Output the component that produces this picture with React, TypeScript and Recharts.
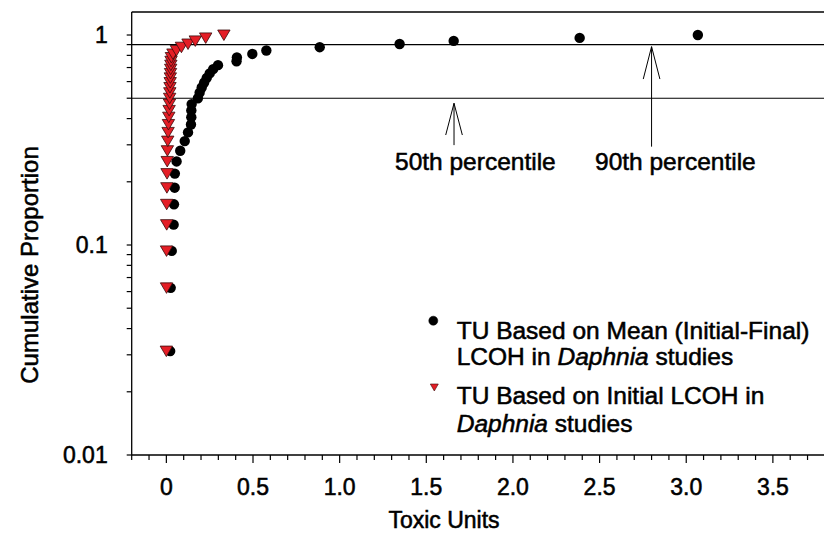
import {
  ScatterChart,
  Scatter,
  XAxis,
  YAxis,
  ReferenceLine,
  Legend,
} from "recharts";

// cumulative proportion (rank / 32)
const proportion = [
  0.03125, 0.0625, 0.09375, 0.125, 0.15625, 0.1875, 0.21875, 0.25, 0.28125,
  0.3125, 0.34375, 0.375, 0.40625, 0.4375, 0.46875, 0.5, 0.53125, 0.5625,
  0.59375, 0.625, 0.65625, 0.6875, 0.71875, 0.75, 0.78125, 0.8125, 0.84375,
  0.875, 0.90625, 0.9375, 0.96875, 1,
];

// TU based on mean (initial-final) LCOH
const meanTU = [
  0.022, 0.025, 0.031, 0.042, 0.044, 0.048, 0.049, 0.059, 0.08, 0.106, 0.125,
  0.142, 0.144, 0.144, 0.146, 0.182, 0.192, 0.204, 0.218, 0.233, 0.25, 0.27,
  0.298, 0.405, 0.407, 0.496, 0.577, 0.885, 1.346, 1.658, 2.385, 3.067,
];

// TU based on initial LCOH
const initialTU = [
  0.0, 0.001, 0.001, 0.002, 0.002, 0.003, 0.004, 0.005, 0.006, 0.008, 0.01,
  0.012, 0.014, 0.016, 0.018, 0.019, 0.02, 0.021, 0.022, 0.023, 0.024, 0.025,
  0.026, 0.027, 0.029, 0.038, 0.058, 0.087, 0.125, 0.167, 0.227, 0.332,
];

const xTicks = [
  -0.2, -0.1, 0, 0.1, 0.2, 0.3, 0.4, 0.5, 0.6, 0.7, 0.8, 0.9, 1, 1.1, 1.2, 1.3,
  1.4, 1.5, 1.6, 1.7, 1.8, 1.9, 2, 2.1, 2.2, 2.3, 2.4, 2.5, 2.6, 2.7, 2.8, 2.9,
  3, 3.1, 3.2, 3.3, 3.4, 3.5, 3.6, 3.7,
];
const xMajor = [0, 0.5, 1, 1.5, 2, 2.5, 3, 3.5];

const yTicks = [
  0.01, 0.02, 0.03, 0.04, 0.05, 0.06, 0.07, 0.08, 0.09, 0.1, 0.2, 0.3, 0.4,
  0.5, 0.6, 0.7, 0.8, 0.9, 1,
];
const yMajor = [0.01, 0.1, 1];

const percentiles = [0.5, 0.9];

const X_DOMAIN: [number, number] = [-0.2, 3.795];
const Y_DOMAIN: [number, number] = [0.01, 1.287];

const meanData = proportion.map((p, i) => ({ x: meanTU[i], y: p }));
const initialData = proportion.map((p, i) => ({ x: initialTU[i], y: p }));

const FONT = "'Liberation Sans', Arial, Helvetica, sans-serif";
const RED = "#e41e26";
// thicken glyphs a little to get closer to the heavier Helvetica of the original
const BOLDISH = { stroke: "#000", strokeWidth: 0.55 };

const Dot = (props: any) => {
  const { cx, cy } = props;
  return <circle cx={cx} cy={cy} r={5.2} fill="#000" />;
};

const Tri = (props: any) => {
  const { cx, cy } = props;
  const w = 6.2;
  return (
    <path
      d={`M${cx - w},${cy - 5}L${cx + w},${cy - 5}L${cx},${cy + 5.5}Z`}
      fill={RED}
      stroke="#3a0a0a"
      strokeWidth={0.8}
    />
  );
};

const XTick = (props: any) => {
  const { x, y, payload } = props;
  const v = payload.value;
  const major = xMajor.some((m) => Math.abs(m - v) < 1e-6);
  return (
    <g>
      <line x1={x} x2={x} y1={y} y2={y + (major ? 8 : 5)} stroke="#000" strokeWidth={1.2} />
      {major && (
        <text
          x={x}
          y={y + 40}
          textAnchor="middle"
          fontFamily={FONT}
          fontSize={23}
          fill="#000"
          {...BOLDISH}
        >
          {v === 0 ? "0" : v.toFixed(1)}
        </text>
      )}
    </g>
  );
};

const YTick = (props: any) => {
  const { x, y, payload } = props;
  const v = payload.value;
  const major = yMajor.some((m) => Math.abs(m - v) < 1e-9);
  return (
    <g>
      <line x1={x - 5} x2={x} y1={y} y2={y} stroke="#000" strokeWidth={1.2} />
      {major && (
        <text
          x={x - 24}
          y={y + 8}
          textAnchor="end"
          fontFamily={FONT}
          fontSize={23}
          fill="#000"
          {...BOLDISH}
        >
          {String(v)}
        </text>
      )}
    </g>
  );
};

const renderLegend = () => (
  <svg width={404} height={140} style={{ display: "block" }}>
    <g fontFamily={FONT} fontSize={24.5} fill="#000" {...BOLDISH}>
      <circle cx={13.3} cy={20.7} r={4.5} fill="#000" />
      <text x={36.7} y={39}>TU Based on Mean (Initial-Final)</text>
      <text x={36.7} y={65}>
        LCOH in <tspan fontStyle="italic">Daphnia</tspan> studies
      </text>
      <path d="M10.3,84 L18.3,84 L14.3,91 Z" fill={RED} stroke="#3a0a0a" strokeWidth={0.6} />
      <text x={36.7} y={104}>TU Based on Initial LCOH in</text>
      <text x={36.7} y={131.7}>
        <tspan fontStyle="italic">Daphnia</tspan> studies
      </text>
    </g>
  </svg>
);

export default function App() {
  return (
    <div
      style={{
        position: "absolute",
        left: 0,
        top: 0,
        width: 824,
        height: 533,
        background: "#fff",
        overflow: "hidden",
      }}
    >
      <ScatterChart
        width={824}
        height={533}
        margin={{ top: 12, right: 0, bottom: 0, left: 0 }}
      >
        <XAxis
          type="number"
          dataKey="x"
          domain={X_DOMAIN}
          allowDataOverflow
          ticks={xTicks}
          interval={0}
          tick={<XTick />}
          tickLine={false}
          tickSize={0}
          tickMargin={0}
          height={78}
          axisLine={{ stroke: "#000", strokeWidth: 1.3 }}
        />
        <YAxis
          type="number"
          dataKey="y"
          scale="log"
          domain={Y_DOMAIN}
          allowDataOverflow
          ticks={yTicks}
          interval={0}
          tick={<YTick />}
          tickLine={false}
          tickSize={0}
          tickMargin={0}
          width={131.7}
          axisLine={{ stroke: "#000", strokeWidth: 1.3 }}
        />
        <ReferenceLine y={Y_DOMAIN[1]} stroke="#000" strokeWidth={1.3} />
        {percentiles.map((p) => (
          <ReferenceLine key={p} y={p} stroke="#000" strokeWidth={1.2} />
        ))}
        {/* arrow for 50th percentile */}
        <ReferenceLine segment={[{ x: 1.66, y: 0.473 }, { x: 1.66, y: 0.299 }]} stroke="#000" strokeWidth={1} />
        <ReferenceLine segment={[{ x: 1.66, y: 0.473 }, { x: 1.612, y: 0.334 }]} stroke="#000" strokeWidth={1} />
        <ReferenceLine segment={[{ x: 1.66, y: 0.473 }, { x: 1.708, y: 0.334 }]} stroke="#000" strokeWidth={1} />
        {/* arrow for 90th percentile */}
        <ReferenceLine segment={[{ x: 2.8, y: 0.88 }, { x: 2.8, y: 0.294 }]} stroke="#000" strokeWidth={1} />
        <ReferenceLine segment={[{ x: 2.8, y: 0.88 }, { x: 2.752, y: 0.617 }]} stroke="#000" strokeWidth={1} />
        <ReferenceLine segment={[{ x: 2.8, y: 0.88 }, { x: 2.848, y: 0.617 }]} stroke="#000" strokeWidth={1} />
        <Scatter
          name="TU Based on Mean (Initial-Final) LCOH in Daphnia studies"
          data={meanData}
          shape={<Dot />}
          isAnimationActive={false}
        />
        <Scatter
          name="TU Based on Initial LCOH in Daphnia studies"
          data={initialData}
          shape={<Tri />}
          isAnimationActive={false}
        />
        <Legend
          content={renderLegend}
          layout="vertical"
          align="center"
          verticalAlign="middle"
          wrapperStyle={{ position: "absolute", left: 420, top: 300, width: 404, height: 140 }}
        />
        <text x={395} y={170} fontFamily={FONT} fontSize={24.5} fill="#000" {...BOLDISH}>
          50th percentile
        </text>
        <text x={595} y={170} fontFamily={FONT} fontSize={24.5} fill="#000" {...BOLDISH}>
          90th percentile
        </text>
        <text x={444} y={528} textAnchor="middle" fontFamily={FONT} fontSize={23} fill="#000" {...BOLDISH}>
          Toxic Units
        </text>
        <text
          transform="translate(38,265) rotate(-90)"
          textAnchor="middle"
          fontFamily={FONT}
          fontSize={24}
          fill="#000"
          {...BOLDISH}
        >
          Cumulative Proportion
        </text>
      </ScatterChart>
    </div>
  );
}
